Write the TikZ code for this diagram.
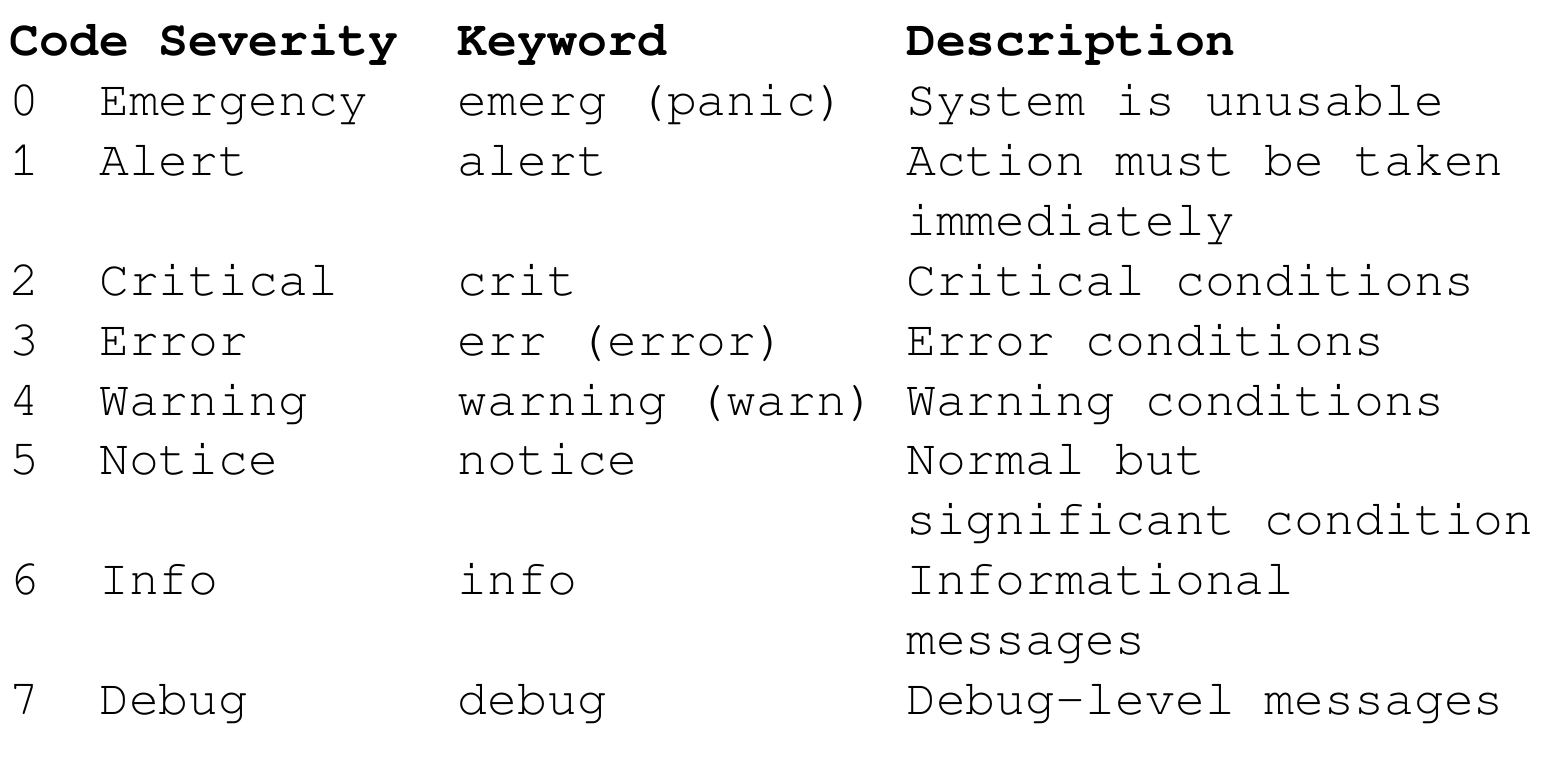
\documentclass[tikz,border=0pt]{standalone}
\usepackage{fontspec}
\IfFontExistsTF{Nimbus Mono PS}{\setmonofont{Nimbus Mono PS}}{%
  \IfFontExistsTF{FreeMono}{\setmonofont{FreeMono}}{\setmonofont{Liberation Mono}}}
\newcommand\tabfont{\fontsize{49.8pt}{59.8pt}\selectfont\ttfamily}
\newcommand\tabbold{\fontsize{49.8pt}{59.8pt}\selectfont\ttfamily\bfseries}
\tikzset{
  cell/.style={anchor=base west, inner sep=0pt, outer sep=0pt, font=\tabfont},
  headcell/.style={cell, font=\tabbold}
}
\begin{document}
\begin{tikzpicture}[x=1pt,y=-1pt]
\useasboundingbox (0,0) rectangle (1557,775);
\fill[white] (0,0) rectangle (1557,775);
% header
\node[headcell] (hcode) at (9.5,56) {Code};
\node[headcell] (hsev)  at (158.9,56) {Severity};
\node[headcell] (hkey)  at (457.9,56) {Keyword};
\node[headcell] (hdesc) at (906.2,56) {Description};
% row 0
\node[cell] (c0) at (9.5,116) {0};
\node[cell] (s0) at (99.2,116) {Emergency};
\node[cell] (k0) at (457.9,116) {emerg (panic)};
\node[cell] (d0) at (906.2,116) {System is unusable};
% row 1
\node[cell] (c1) at (9.5,175.8) {1};
\node[cell] (s1) at (99.2,175.8) {Alert};
\node[cell] (k1) at (457.9,175.8) {alert};
\node[cell] (d1) at (906.2,175.8) {Action must be taken};
\node[cell] (d1b) at (906.2,235.6) {immediately};
% row 2
\node[cell] (c2) at (9.5,295.4) {2};
\node[cell] (s2) at (99.2,295.4) {Critical};
\node[cell] (k2) at (457.9,295.4) {crit};
\node[cell] (d2) at (906.2,295.4) {Critical conditions};
% row 3
\node[cell] (c3) at (9.5,355.2) {3};
\node[cell] (s3) at (99.2,355.2) {Error};
\node[cell] (k3) at (457.9,355.2) {err (error)};
\node[cell] (d3) at (906.2,355.2) {Error conditions};
% row 4
\node[cell] (c4) at (9.5,415) {4};
\node[cell] (s4) at (99.2,415) {Warning};
\node[cell] (k4) at (457.9,415) {warning (warn)};
\node[cell] (d4) at (906.2,415) {Warning conditions};
% row 5
\node[cell] (c5) at (9.5,474.8) {5};
\node[cell] (s5) at (99.2,474.8) {Notice};
\node[cell] (k5) at (457.9,474.8) {notice};
\node[cell] (d5) at (906.2,474.8) {Normal but};
\node[cell] (d5b) at (906.2,534.6) {significant condition};
% row 6
\node[cell] (c6) at (9.5,594.4) {6};
\node[cell] (s6) at (99.2,594.4) {Info};
\node[cell] (k6) at (457.9,594.4) {info};
\node[cell] (d6) at (906.2,594.4) {Informational};
\node[cell] (d6b) at (906.2,654.2) {messages};
% row 7
\node[cell] (c7) at (9.5,714) {7};
\node[cell] (s7) at (99.2,714) {Debug};
\node[cell] (k7) at (457.9,714) {debug};
\node[cell] (d7) at (906.2,714) {Debug-level messages};
\end{tikzpicture}
\end{document}
